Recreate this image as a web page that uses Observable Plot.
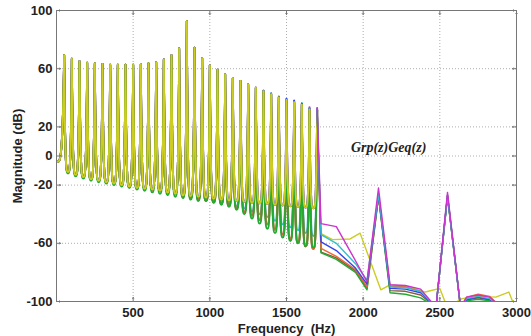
<!DOCTYPE html>
<html><head><meta charset="utf-8">
<script src="https://cdn.jsdelivr.net/npm/d3@7"></script>
<script src="https://cdn.jsdelivr.net/npm/@observablehq/plot@0.6"></script>
<style>
html,body{margin:0;padding:0;background:#fff;}
</style>
</head><body><div id="chart"></div>
<script>
// Harmonic peaks (Hz) and their magnitudes (dB)
const harmonics = [50,100,150,200,250,300,350,400,450,500,550,600,650,700,750,800,850,900,950,1000,1050,1100,1150,1200,1250,1300,1350,1400,1450,1500,1550,1600,1650,1700];
const peakMain = [69.2,66.9,65.2,64.1,63.6,63.2,62.7,62.7,62.7,62.7,63.2,63.6,64.5,66.4,69.2,73.9,92.7,74.4,67.3,62.3,59.3,56.1,53.6,51.5,49.2,46.9,44.5,42.5,40.2,38.6,37.0,35.2,32.0,31.5];
// Last eight peaks (1350..1700 Hz) of the coloured curves
const peakEndCyan    = [45.1,43.2,41.0,39.4,38.2,36.4,33.0,32.2];
const peakEndBlue    = [44.8,43.0,40.8,39.2,38.0,36.0,32.6,31.8];
const peakEndMagenta = [44.6,42.7,40.6,39.0,37.6,35.8,33.6,33.0];
// Troughs between harmonics (Hz) and their magnitudes (dB)
const troughFreq = [75,125,175,225,275,325,375,425,475,525,575,625,675,725,775,825,875,925,975,1025,1075,1125,1175,1225,1275,1325,1375,1425,1475,1525,1575,1625,1675];
const troughYellow = [-11,-13,-14.5,-16,-17,-18,-19,-20,-21,-22,-22.5,-23,-24,-25,-26,-27,-27.5,-28,-28.5,-29.5,-30,-30.5,-31,-31.5,-32,-32.5,-33,-33.5,-34,-34.5,-35,-35.5,-36];
const troughMid    = [-11,-13,-14.5,-16,-17,-18,-19,-20,-21,-22,-22.5,-23,-24,-25,-26,-27.5,-28.5,-29.5,-30,-31,-32,-33,-34.5,-36,-38,-40,-42,-44.5,-47,-49,-51,-53,-55];
const troughRed    = [-11,-13,-14.5,-16,-17,-18,-19,-20,-21,-22,-22.5,-23,-24,-25,-26,-28,-29,-30,-31,-32,-33,-34.5,-36,-38.5,-41,-44,-47,-50.5,-54,-57,-59.5,-62,-64];
const troughGreen  = [-12,-14,-15.5,-17,-18,-19,-20,-21,-22,-23,-24,-25,-26,-27,-28,-29,-30,-31,-31,-32,-33.5,-35,-37,-40,-43,-46.5,-50,-53,-56,-58.5,-60,-62,-63];
const startFreq = 5;
const startDb = -4;
// High-frequency tail (Hz) shared by the coloured curves
const tailFreq = [1725,1825,1950,2025,2100,2175,2275,2375,2475,2550,2635,2675,2750,2825,2900];
const tailMagenta = [-46.5,-48.5,-72,-86.5,-22,-88.5,-89,-91.5,-104,-25,-104,-97,-95.5,-97,-104];
const tailCyan    = [-54,-60,-74,-85.5,-26,-90,-90.5,-93,-104,-27,-104,-98,-96.5,-98,-104];
const tailBlue    = [-59,-65,-77,-88,-27,-91,-91.5,-94,-104,-27,-104,-98.5,-97,-98.5,-104];
const tailBrown   = [-66,-70,-79,-91,-28,-92.5,-93,-95.5,-104,-28,-104,-99,-97.5,-99,-104];
const tailGreen   = [-66.5,-71,-80,-92,-28,-94,-95,-97.5,-104,-28,-104,-99.5,-98.5,-99.5,-104];
const tailRed     = [-63.5,-69,-78,-90,-27,-89.5,-90,-93,-104,-27,-104,-97,-95,-96.5,-104];
// Yellow curve tail
const tailYellowFreq = [1725,1800,1915,1980,2115,2175,2300,2405,2500,2548,2645,2745,2865,2950,2990];
const tailYellowDb   = [-53.4,-57.5,-57,-53,-92,-88.5,-90,-93.5,-91,-104,-98,-96.5,-97,-93.5,-104];
// Axis ticks
const xTicks = [500,1000,1500,2000,2500,3000];
const yTicks = [-100,-60,-20,0,20,60,100];

const series = [
  {name:"magenta", color:"#cc33cc", troughs:troughYellow, peakEnd:peakEndMagenta, tf:tailFreq, tail:tailMagenta},
  {name:"cyan",    color:"#33c0cc", troughs:troughMid,    peakEnd:peakEndCyan,    tf:tailFreq, tail:tailCyan},
  {name:"blue",    color:"#3344ee", troughs:troughYellow, peakEnd:peakEndBlue,    tf:tailFreq, tail:tailBlue},
  {name:"brown",   color:"#8a5a3a", troughs:troughRed,    peakEnd:null,           tf:tailFreq, tail:tailBrown},
  {name:"red",     color:"#ee6633", troughs:troughRed,    peakEnd:null,           tf:tailFreq, tail:tailRed},
  {name:"green",   color:"#22aa33", troughs:troughGreen,  peakEnd:null,           tf:tailFreq, tail:tailGreen},
  {name:"yellow",  color:"#cccc22", troughs:troughYellow, peakEnd:null,           tf:tailYellowFreq, tail:tailYellowDb}
];

const comb = [], tails = [];
series.forEach(s => {
  comb.push({s:s.name, f:startFreq, db:startDb});
  harmonics.forEach((f,i) => {
    const k = i - (harmonics.length - 8);
    const p = (s.peakEnd && k >= 0) ? s.peakEnd[k] : peakMain[i];
    comb.push({s:s.name, f, db:p});
    if (i < troughFreq.length) comb.push({s:s.name, f:troughFreq[i], db:s.troughs[i]});
  });
  const lastPeak = s.peakEnd ? s.peakEnd[s.peakEnd.length-1] : peakMain[harmonics.length-1];
  tails.push({s:s.name, f:harmonics[harmonics.length-1], db:lastPeak});
  s.tf.forEach((f,i) => tails.push({s:s.name, f, db:s.tail[i]}));
});
const colorOf = Object.fromEntries(series.map(s => [s.name, s.color]));
const tailOrder = ["yellow","brown","green","red","blue","cyan","magenta"];
const tailsSorted = tailOrder.flatMap(n => tails.filter(d => d.s === n));

// Resonance-style curve: broad rounded troughs, sharp narrow peaks (open path)
function CombCurve(context) { this._context = context; }
CombCurve.prototype = {
  areaStart() {}, areaEnd() {},
  lineStart() { this._point = 0; },
  lineEnd() {},
  point(x, y) {
    x = +x; y = +y;
    if (this._point === 0) {
      this._point = 1;
      this._context.moveTo(x, y);
    } else {
      const x0 = this._x0, y0 = this._y0, dx = x - x0;
      const yLow = Math.max(y0, y);
      let a, b;
      if (y < y0) { a = 0.45; b = 0.78; } else { a = 0.22; b = 0.55; }
      this._context.bezierCurveTo(x0 + a * dx, yLow, x0 + b * dx, yLow, x, y);
    }
    this._x0 = x; this._y0 = y;
  }
};
const combCurve = ctx => new CombCurve(ctx);

const chart = Plot.plot({
  width: 531, height: 336,
  marginLeft: 56, marginRight: 15, marginTop: 10, marginBottom: 35,
  style: {fontFamily: "'Liberation Sans', Arial, sans-serif", fontWeight: "bold", fontSize: "13px", color: "#222", background: "#fff", overflow: "visible"},
  x: {domain: [0, 3000]},
  y: {domain: [-100, 100]},
  marks: [
    Plot.gridX(xTicks, {stroke: "#999", strokeOpacity: 0.8, strokeDasharray: "1,2"}),
    Plot.gridY(yTicks, {stroke: "#999", strokeOpacity: 0.8, strokeDasharray: "1,2"}),
    Plot.line(comb, {x: "f", y: "db", z: "s", stroke: d => colorOf[d.s], strokeWidth: 1.9, curve: combCurve, clip: true}),
    Plot.line(tailsSorted, {x: "f", y: "db", z: "s", stroke: d => colorOf[d.s], strokeWidth: 1.4, clip: true}),
    Plot.text(["Grp(z)Geq(z)"], {x: 1920, y: 6, textAnchor: "start", fontFamily: "'Liberation Serif', 'Times New Roman', serif", fontStyle: "italic", fontWeight: "bold", fontSize: 14, fill: "#222"}),
    Plot.vector(xTicks, {x: d => d, y: -100, length: 4, anchor: "start", rotate: 0, stroke: "#777", strokeWidth: 1}),
    Plot.vector(xTicks, {x: d => d, y: 100, length: 4, anchor: "start", rotate: 180, stroke: "#777", strokeWidth: 1}),
    Plot.vector(yTicks, {x: 3000, y: d => d, length: 4, anchor: "start", rotate: -90, stroke: "#777", strokeWidth: 1}),
    Plot.vector(yTicks, {x: 0, y: d => d, length: 4, anchor: "start", rotate: 90, stroke: "#777", strokeWidth: 1}),
    Plot.axisX(xTicks, {tickSize: 0, tickPadding: 6, tickFormat: d => String(d), label: "Frequency  (Hz)", labelAnchor: "center", labelOffset: 31, labelArrow: "none", fill: "#222"}),
    Plot.axisY(yTicks, {tickSize: 0, tickPadding: 4, tickFormat: d => String(d), label: "Magnitude (dB)", labelAnchor: "center", labelOffset: 44, labelArrow: "none", fill: "#222"}),
    Plot.frame({stroke: "#777"})
  ]
});
document.getElementById("chart").appendChild(chart);
</script>
</body></html>
